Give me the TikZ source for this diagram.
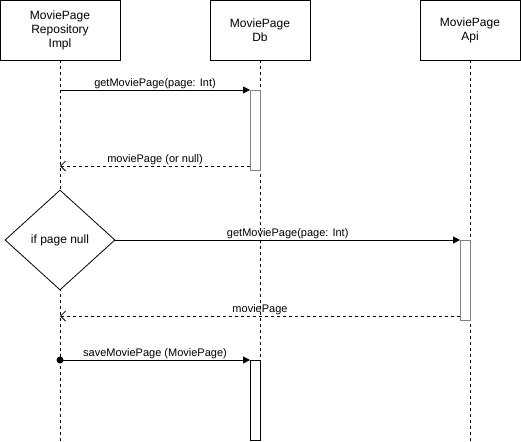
\documentclass[tikz,border=0pt]{standalone}
\usepackage{fontspec}
\setmainfont{Liberation Sans}
\usetikzlibrary{shapes.geometric,arrows.meta}
\begin{document}
\begin{tikzpicture}[x=1pt,y=-1pt,line width=0.8pt,
  actor/.style={draw,fill=white,minimum width=100pt,minimum height=60pt,inner sep=0pt,align=center,font=\fontsize{12}{14}\selectfont},
  life/.style={dashed,dash pattern=on 3pt off 3pt,line width=0.7pt},
  act/.style={draw,fill=white,minimum width=10pt,minimum height=80pt,inner sep=0pt,anchor=north west},
  grayact/.style={act,draw=black!50,line width=1.2pt},
  msg/.style={-{Triangle[length=7pt,width=7pt]}},
  ret/.style={dashed,dash pattern=on 3pt off 3pt,-{Straight Barb[length=5pt,width=10pt]}},
  lbl/.style={font=\fontsize{11}{13}\selectfont,inner sep=1pt}]
\useasboundingbox (0,0) rectangle (521,441);
% lifelines
\coordinate (l1e) at (60,441);
\coordinate (l2e) at (260,441);
\coordinate (l3e) at (470,441);
\node[actor,minimum width=120pt] (a1) at (60,30) {MoviePage\\Repository\\Impl};
\node[actor] (a2) at (260,30) {MoviePage\\Db};
\node[actor] (a3) at (470,30) {MoviePage\\Api};
\draw[life] (a1.south) -- (l1e);
\draw[life] (a2.south) -- (l2e);
\draw[life] (a3.south) -- (l3e);
% activations
\node[grayact] (c1) at (250,90) {};
\node[grayact] (c2) at (460,240) {};
\node[act] (c3) at (250,360) {};
% diamond
\node[diamond,draw,fill=white,minimum width=110pt,minimum height=100pt,inner sep=0pt,aspect=1.1,font=\fontsize{12}{14}\selectfont] (d) at (60,240) {if page null};
% messages
\coordinate (s1) at (60,90);
\draw[msg] (s1) -- node[lbl,above] {getMoviePage(page: Int)} (c1.north west);
\coordinate (r1) at (60,166);
\draw[ret] (c1.north west |- r1) -- node[lbl,above] {moviePage (or null)} (r1);
\draw[msg] (d.east) -- node[lbl,above,pos=0.5] {getMoviePage(page: Int)} (c2.north west);
\coordinate (r2) at (60,316);
\draw[ret] (c2.north west |- r2) -- node[lbl,above] {moviePage} (r2);
\coordinate (s3) at (60,360);
\fill (s3) circle (3.5pt);
\draw[msg] (s3) -- node[lbl,above] {saveMoviePage (MoviePage)} (c3.north west);
\end{tikzpicture}
\end{document}
